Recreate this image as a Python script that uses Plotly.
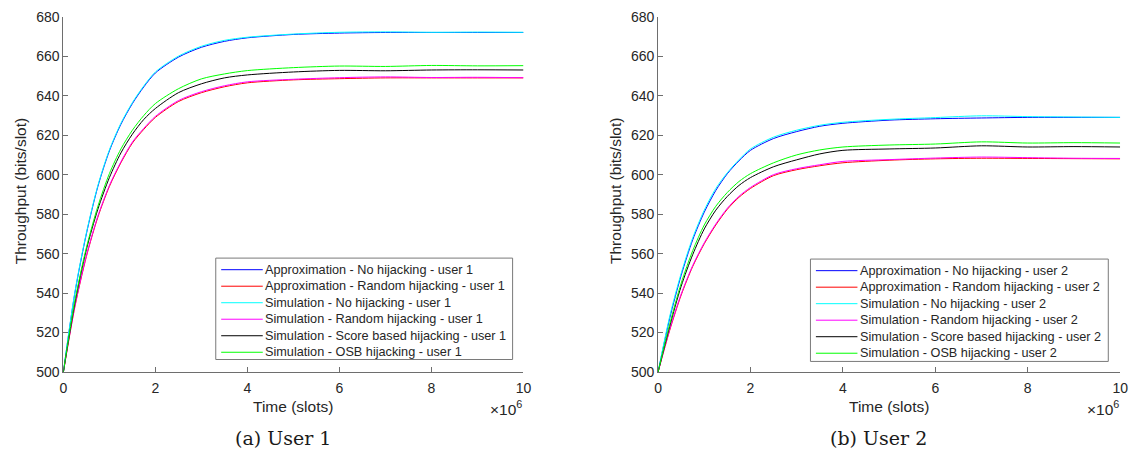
import plotly.graph_objects as go

# Time axis, in units of 10^6 slots
time_1e6 = [0, 0.25, 0.5, 0.75, 1, 1.25, 1.5, 1.75, 2, 2.5, 3, 3.5, 4, 5, 6, 7, 8, 9, 10]

# ---- User 1 throughput (bits/slot) ----
u1_approx_none = [500, 540, 570, 594, 612, 625.5, 636, 644.5, 651.5, 659.5, 664.5, 667.5, 669.3, 671, 671.7, 672, 672, 672, 672]
u1_approx_random = [500, 533, 558.5, 578.5, 594, 606, 616, 623, 629, 637, 641.5, 644.5, 646.5, 648, 648.6, 649, 649, 649, 649]
u1_sim_none = [500, 540.5, 570.5, 594.5, 612.5, 626, 636.5, 645, 652, 660, 665, 668, 669.6, 671.2, 672.1, 672.3, 672.1, 672.2, 672.1]
u1_sim_random = [500, 533.5, 559, 579, 594.5, 606.5, 616.5, 623.5, 629.5, 637.5, 642, 645, 647, 648.3, 649.1, 649.5, 649.2, 649.3, 649.1]
u1_sim_score = [500, 535, 562, 582.5, 598.5, 611, 620.5, 628, 633.5, 641.5, 646, 649, 650.5, 652, 652.8, 652.6, 653, 653.1, 653]
u1_sim_osb = [500, 536, 563, 584, 600.5, 613, 622.5, 630, 636, 643.5, 648.5, 651, 652.7, 654.2, 655, 654.8, 655.3, 655.1, 655.2]

# ---- User 2 throughput (bits/slot) ----
u2_approx_none = [500, 527, 549, 567, 581, 592, 600.5, 607, 612.3, 618.3, 621.8, 624.5, 626, 627.6, 628.3, 628.7, 629, 629, 629]
u2_approx_random = [500, 521, 539, 553.5, 565, 574.5, 582.5, 588.5, 593, 599.5, 602.5, 604.5, 606, 607.3, 608, 608.3, 608.2, 608.1, 608]
u2_sim_none = [500, 528, 550, 568, 582, 593, 601, 607.5, 613, 619, 622.5, 625, 626.5, 628, 628.9, 629.8, 629.4, 629.2, 629]
u2_sim_random = [500, 521.5, 539.5, 554, 565.5, 575, 583, 589, 593.5, 600, 603, 605, 606.7, 607.6, 608.4, 608.9, 608.6, 608.3, 608.2]
u2_sim_score = [500, 523, 543.5, 559.5, 572.5, 582, 589, 594.5, 598.5, 604, 607.5, 610.5, 612.3, 613, 613.5, 614.6, 614, 614.2, 614]
u2_sim_osb = [500, 524, 545, 561.5, 574.5, 584, 591, 596.5, 600.5, 606, 610, 612.5, 614, 615, 615.5, 616.6, 616, 616.2, 616]

series_names = [
    "Approximation - No hijacking - user {}",
    "Approximation - Random hijacking - user {}",
    "Simulation - No hijacking - user {}",
    "Simulation - Random hijacking - user {}",
    "Simulation - Score based hijacking - user {}",
    "Simulation - OSB hijacking - user {}",
]
series_colors = ["#0000ff", "#ff0000", "#00ffff", "#ff00ff", "#000000", "#00ff00"]

user_series = {
    1: [u1_approx_none, u1_approx_random, u1_sim_none, u1_sim_random, u1_sim_score, u1_sim_osb],
    2: [u2_approx_none, u2_approx_random, u2_sim_none, u2_sim_random, u2_sim_score, u2_sim_osb],
}

W, H = 1144, 466
# plot-area edges in pixels
left_px = {1: (60, 525), 2: (661, 1128)}
top_px, bottom_px = 9, 377
# legend boxes: (left, right, top, bottom) in pixels
legend_box = {1: (214, 514, 259, 364), 2: (815, 1116, 260, 366)}
ROW_STEP = 17.1


def px(xp, yp):
    return xp / W, 1 - yp / H


fig = go.Figure()

for user in (1, 2):
    ax = "" if user == 1 else "2"
    for name, color, values in zip(series_names, series_colors, user_series[user]):
        fig.add_trace(go.Scatter(
            x=time_1e6, y=values, mode="lines",
            line=dict(color=color, width=1, shape="spline", smoothing=0.8),
            name=name.format(user), showlegend=False,
            xaxis="x" + ax, yaxis="y" + ax,
        ))

tick_font = dict(family="Liberation Sans, Arial, sans-serif", size=14, color="#262626")
axis_common = dict(
    showline=True, linecolor="#6e6e6e", linewidth=1,
    ticks="inside", ticklen=5, tickcolor="#6e6e6e", tickwidth=1,
    showgrid=False, zeroline=False, mirror=False,
    tickfont=tick_font,
)

layout = dict(
    width=W, height=H,
    margin=dict(l=0, r=0, t=0, b=0),
    paper_bgcolor="white", plot_bgcolor="white",
    showlegend=False,
)

ydom = [1 - bottom_px / H, 1 - top_px / H]
for user in (1, 2):
    ax = "" if user == 1 else "2"
    x0, x1 = left_px[user]
    layout["xaxis" + ax] = dict(
        axis_common, domain=[x0 / W, x1 / W], range=[0, 10],
        tickvals=[0, 2, 4, 6, 8, 10], anchor="y" + ax, ticklabelstandoff=3,
    )
    layout["yaxis" + ax] = dict(
        axis_common, domain=ydom, range=[500, 680],
        tickvals=list(range(500, 681, 20)), anchor="x" + ax,
    )

fig.update_layout(**layout)

label_font = dict(family="Liberation Sans, Arial, sans-serif", size=15.5, color="#262626")
legend_font = dict(family="Liberation Sans, Arial, sans-serif", size=12.7, color="#262626")
caption_font = dict(family="DejaVu Serif, Liberation Serif, serif", size=19, color="#1a1a1a")
captions = {1: "(a) User 1", 2: "(b) User 2"}

for user in (1, 2):
    x0, x1 = left_px[user]
    xc = (x0 + x1) / 2
    # axis labels
    ax_, ay_ = px(xc, 413)
    fig.add_annotation(x=ax_, y=ay_, xref="paper", yref="paper",
                       text="Time (slots)", showarrow=False, font=label_font,
                       xanchor="center", yanchor="middle")
    ax_, ay_ = px(x1 + 1, 414)
    fig.add_annotation(x=ax_, y=ay_, xref="paper", yref="paper",
                       text="×10<sup>6</sup>", showarrow=False, font=label_font,
                       xanchor="right", yanchor="middle")
    ax_, ay_ = px(x0 - 43, 190)
    fig.add_annotation(x=ax_, y=ay_, xref="paper", yref="paper",
                       text="Throughput (bits/slot)", showarrow=False, font=label_font,
                       textangle=-90, xanchor="center", yanchor="middle")
    # sub-figure caption
    ax_, ay_ = px(xc - 11, 445)
    fig.add_annotation(x=ax_, y=ay_, xref="paper", yref="paper",
                       text=captions[user], showarrow=False, font=caption_font,
                       xanchor="center", yanchor="middle")

    # legend: frame, line samples and entries
    bl, br, bt, bb = legend_box[user]
    fx0, fy0 = px(bl, bb)
    fx1, fy1 = px(br, bt)
    fig.add_shape(type="rect", xref="paper", yref="paper",
                  x0=fx0, y0=fy0, x1=fx1, y1=fy1,
                  line=dict(color="#7a7a7a", width=1), fillcolor="white", layer="above")
    for i, (name, color) in enumerate(zip(series_names, series_colors)):
        row_y = bt + 12 + ROW_STEP * i
        lx0, ly = px(bl + 5.5, row_y)
        lx1, _ = px(bl + 47.5, row_y)
        fig.add_shape(type="line", xref="paper", yref="paper",
                      x0=lx0, y0=ly, x1=lx1, y1=ly,
                      line=dict(color=color, width=1), layer="above")
        tx, ty = px(bl + 48, row_y)
        fig.add_annotation(x=tx, y=ty, xref="paper", yref="paper",
                           text=name.format(user), showarrow=False, font=legend_font,
                           xanchor="left", yanchor="middle")

fig.write_html("out.html")
